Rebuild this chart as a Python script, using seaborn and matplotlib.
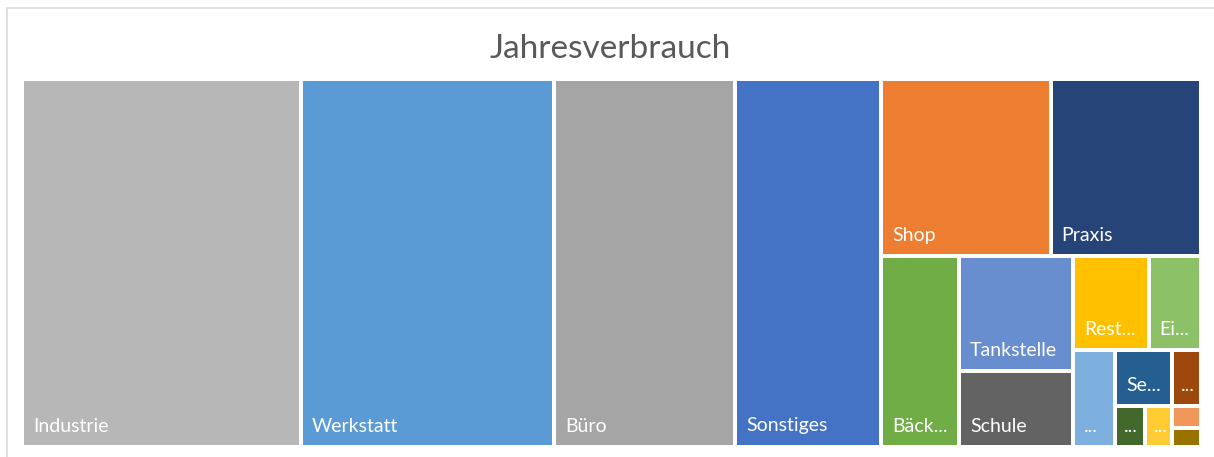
import numpy as np
import pandas as pd
import matplotlib
matplotlib.use("Agg")
import matplotlib.pyplot as plt
from matplotlib.patches import Rectangle
import seaborn as sns

# --- Daten (Jahresverbrauch je Verbraucher, aus dem Bild geschätzt) ---
kategorien = ["Industrie", "Werkstatt", "Büro", "Sonstiges", "Shop", "Praxis",
              "Bäck...", "Tankstelle", "Schule", "Rest...", "Ei...", "...",
              "Se...", "...", "...", "...", "", ""]
verbrauch = [102600, 93100, 66500, 53700, 29900, 26500,
             14800, 13200, 8600, 7100, 4900, 4100,
             3240, 1600, 1210, 1100, 610, 530]
farben = ["#B7B7B7", "#5B9BD5", "#A5A5A5", "#4472C4", "#ED7D31", "#264478",
          "#70AD47", "#698ED0", "#636363", "#FFC000", "#8CC168", "#7CAFDD",
          "#255E91", "#9E480E", "#43682B", "#FFCD33", "#F1975A", "#997300"]

df = pd.DataFrame({"name": kategorien, "wert": verbrauch, "farbe": farben})
df = df.sort_values("wert", ascending=False, kind="stable").reset_index(drop=True)


def treemap_layout(werte, x, y, w, h, ziel=0.77):
    # Squarified-Variante: Streifen entlang der kürzeren Seite,
    # Seitenverhältnis (Breite/Höhe) wird gegen ein Ziel verglichen
    flaechen = [v * w * h / sum(werte) for v in werte]
    rects = []
    i = 0
    while i < len(flaechen):
        vertikal = w >= h
        seite = h if vertikal else w

        def schlechtestes(streifen):
            dicke = sum(streifen) / seite
            m = 0
            for a in streifen:
                laenge = a / dicke
                r = dicke / laenge if vertikal else laenge / dicke
                m = max(m, r / ziel, ziel / r)
            return m

        streifen = [flaechen[i]]
        j = i + 1
        while j < len(flaechen) and schlechtestes(streifen + [flaechen[j]]) < schlechtestes(streifen):
            streifen.append(flaechen[j])
            j += 1
        dicke = sum(streifen) / seite
        pos = 0
        for a in streifen:
            laenge = a / dicke
            if vertikal:
                rects.append((x, y + pos, dicke, laenge))
            else:
                rects.append((x + pos, y, laenge, dicke))
            pos += laenge
        if vertikal:
            x += dicke
            w -= dicke
        else:
            y += dicke
            h -= dicke
        i = j
    return rects


sns.set_theme(style="white")
plt.rcParams["font.family"] = ["Lato", "DejaVu Sans"]

W_PX, H_PX = 1214, 457
fig = plt.figure(figsize=(W_PX / 100, H_PX / 100), dpi=100)

# Zeichenfläche in Pixeln
links, rechts, oben, unten = 22, 1200.7, 79, 446.5
ax = fig.add_axes([links / W_PX, 1 - unten / H_PX,
                   (rechts - links) / W_PX, (unten - oben) / H_PX])
breite, hoehe = rechts - links, unten - oben
ax.set_xlim(0, breite)
ax.set_ylim(hoehe, 0)
ax.axis("off")

rects = treemap_layout(df["wert"].tolist(), 0, 0, breite, hoehe)

for (rx, ry, rw, rh), name, farbe in zip(rects, df["name"], df["farbe"]):
    ax.add_patch(Rectangle((rx, ry), rw, rh, facecolor=farbe,
                           edgecolor="white", linewidth=2.88))
    if name:
        pad = min(9, 0.27 * (rw - 4)) + 2
        ax.annotate(name, xy=(rx, ry + rh), xycoords="data",
                    xytext=(pad, 15), textcoords="offset pixels",
                    ha="left", va="baseline", color="white", fontsize=14)

# Titel
fig.text(610 / W_PX, 1 - 58 / H_PX, "Jahresverbrauch", ha="center",
         va="baseline", fontsize=24, color="#595959")

# Diagrammrahmen
fig.add_artist(Rectangle((6.5 / W_PX, -0.1), 1.2, 1.1 - 8.5 / H_PX + 0.0,
                         transform=fig.transFigure, fill=False,
                         edgecolor="#D9D9D9", linewidth=1.2))

fig.savefig("out.png", dpi=100)
